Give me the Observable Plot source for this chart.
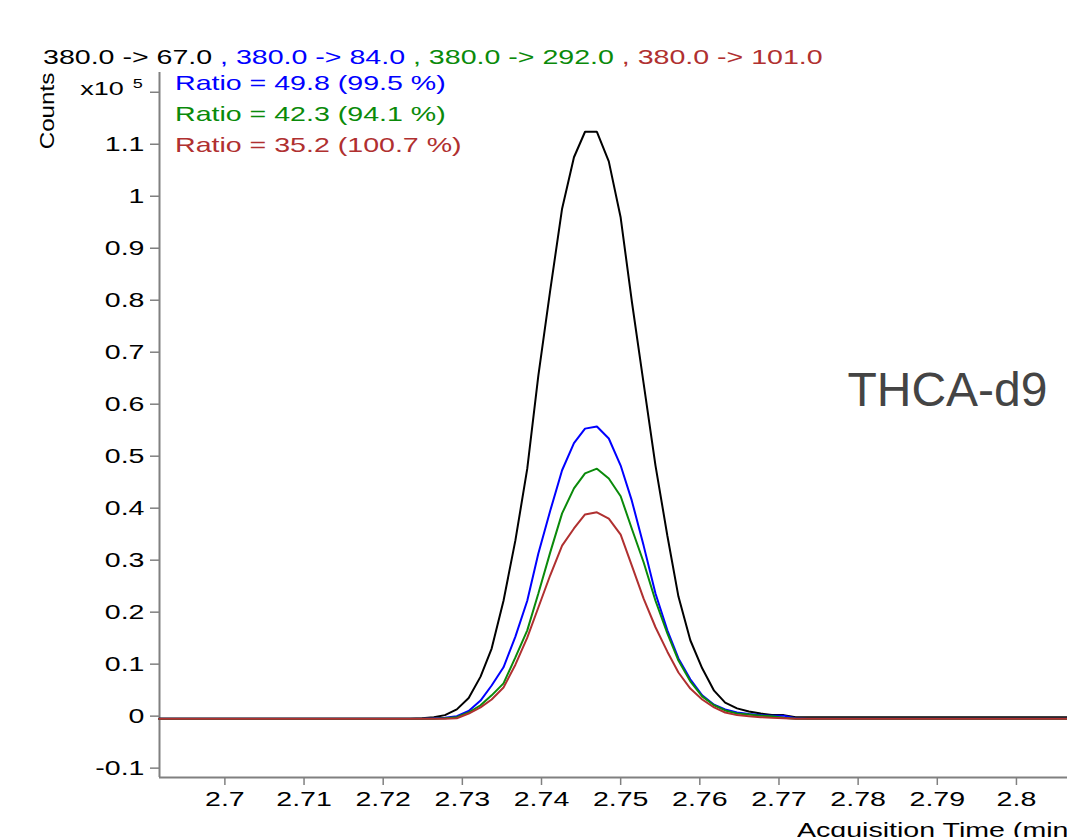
<!DOCTYPE html>
<html>
<head>
<meta charset="utf-8">
<script src="https://cdn.jsdelivr.net/npm/d3@7"></script>
<script src="https://cdn.jsdelivr.net/npm/@observablehq/plot@0.6"></script>
<style>
  html, body { margin: 0; padding: 0; background: #fff; overflow: hidden; }
  #wrap { position: relative; width: 1067px; height: 837px; overflow: hidden; font-family: "Liberation Sans", Arial, sans-serif; }
  #wrap svg { position: absolute; left: 0; top: 0; }
  .ov { position: absolute; white-space: nowrap; font-size: 21px; line-height: 21px; }
  .stretch { transform: scaleX(1.36); transform-origin: left center; }
</style>
</head>
<body>
<div id="wrap">
  <div id="chart"></div>
  <div class="ov stretch" style="left:43px; top:46px;">
    <span style="color:#000">380.0 -&gt; 67.0</span><span style="color:#0000ff"> , 380.0 -&gt; 84.0</span><span style="color:#0a8a0a"> , 380.0 -&gt; 292.0</span><span style="color:#b03030"> , 380.0 -&gt; 101.0</span>
  </div>
  <div class="ov stretch" style="left:175px; top:67px; line-height:31px;">
    <div style="color:#0000ff">Ratio = 49.8 (99.5 %)</div>
    <div style="color:#0a8a0a">Ratio = 42.3 (94.1 %)</div>
    <div style="color:#b03030">Ratio = 35.2 (100.7 %)</div>
  </div>
  <div class="ov" style="right:924px; top:79.8px; font-size:18px; line-height:18px; transform: scaleX(1.5); transform-origin: right center;">x10<span style="font-size:12px; position:relative; top:-6.7px; margin-left:6px;">5</span></div>
  <div class="ov" style="left:46px; top:111px; transform: translate(-50%,-50%) rotate(-90deg) scaleX(1.15);">Counts</div>
  <div class="ov stretch" style="left:797px; top:819px;">Acquisition Time (min)</div>
</div>
<script>
// ---- data ----
const times = [2.6917, 2.7234, 2.7249, 2.7264, 2.7278, 2.7293, 2.7308, 2.7323, 2.7337, 2.7352,
  2.7367, 2.7382, 2.7396, 2.7411, 2.7426, 2.7441, 2.7455, 2.7470, 2.7485, 2.7500,
  2.7514, 2.7529, 2.7544, 2.7559, 2.7573, 2.7588, 2.7603, 2.7618, 2.7632, 2.7647,
  2.7662, 2.7677, 2.7691, 2.7706, 2.7721, 2.7736, 2.8065];

const seriesNames = ["380.0 -> 67.0", "380.0 -> 84.0", "380.0 -> 292.0", "380.0 -> 101.0"];
const seriesColors = ["#000000", "#0000ff", "#0a8a0a", "#b03030"];

const counts67 = [-0.005, -0.005, -0.004, -0.002, 0.002, 0.013, 0.035, 0.076, 0.130, 0.222,
  0.338, 0.476, 0.655, 0.819, 0.976, 1.075, 1.124, 1.124, 1.067, 0.959,
  0.799, 0.640, 0.482, 0.347, 0.230, 0.146, 0.092, 0.049, 0.026, 0.015,
  0.009, 0.005, 0.002, 0.002, -0.002, -0.002, -0.002];
const counts84 = [-0.005, -0.005, -0.005, -0.004, -0.003, 0.000, 0.010, 0.030, 0.059, 0.094,
  0.153, 0.222, 0.313, 0.395, 0.473, 0.525, 0.553, 0.557, 0.534, 0.482,
  0.415, 0.328, 0.236, 0.165, 0.111, 0.071, 0.040, 0.022, 0.013, 0.007,
  0.004, 0.002, 0.001, 0.001, -0.004, -0.005, -0.005];
const counts292 = [-0.005, -0.005, -0.005, -0.005, -0.004, -0.002, 0.007, 0.021, 0.040, 0.063,
  0.113, 0.165, 0.236, 0.315, 0.390, 0.438, 0.467, 0.476, 0.457, 0.423,
  0.361, 0.296, 0.222, 0.159, 0.107, 0.067, 0.038, 0.021, 0.011, 0.005,
  0.003, 0.001, 0.000, -0.003, -0.005, -0.005, -0.005];
const counts101 = [-0.005, -0.005, -0.005, -0.005, -0.005, -0.004, 0.005, 0.017, 0.032, 0.055,
  0.099, 0.151, 0.209, 0.271, 0.328, 0.361, 0.388, 0.392, 0.380, 0.349,
  0.290, 0.226, 0.171, 0.124, 0.084, 0.053, 0.032, 0.017, 0.007, 0.002,
  0.000, -0.002, -0.003, -0.004, -0.005, -0.005, -0.005];

const xTicks = [2.70, 2.71, 2.72, 2.73, 2.74, 2.75, 2.76, 2.77, 2.78, 2.79, 2.80];
const yTicks = [-0.1, 0, 0.1, 0.2, 0.3, 0.4, 0.5, 0.6, 0.7, 0.8, 0.9, 1, 1.1, 1.2];
const xDomain = [2.69174, 2.80645];
const yDomain = [-0.118, 1.238];
const compoundLabel = "THCA-d9";

// ---- table ----
const allSeries = [counts67, counts84, counts292, counts101];
const table = allSeries.flatMap((vals, si) =>
  vals.map((v, i) => ({t: times[i], v, series: seriesNames[si]})));

const axisGrey = "#808080";

const chart = Plot.plot({
  width: 1067,
  height: 837,
  marginLeft: 159,
  marginRight: 0,
  marginTop: 72,
  marginBottom: 60,
  style: {fontFamily: "'Liberation Sans', Arial, sans-serif", fontSize: "21px", color: "#000", background: "#fff"},
  x: {domain: xDomain},
  y: {domain: yDomain},
  color: {domain: seriesNames, range: seriesColors},
  marks: [
    Plot.axisX({ticks: xTicks, tickFormat: d => String(d), tickSize: 8, tickPadding: 6,
      stroke: axisGrey, strokeWidth: 1.5, fill: "#000", label: null}),
    Plot.axisY({ticks: yTicks, tickFormat: d => (d === 1.2 ? "" : String(d)), tickSize: 9, tickPadding: 6,
      stroke: axisGrey, strokeWidth: 1.5, fill: "#000", label: null}),
    Plot.ruleX([xDomain[0]], {stroke: axisGrey, strokeWidth: 2}),
    Plot.ruleY([yDomain[0]], {stroke: axisGrey, strokeWidth: 2}),
    ...seriesNames.map(name =>
      Plot.line(table.filter(d => d.series === name), {x: "t", y: "v", stroke: "series", strokeWidth: 2, strokeLinejoin: "miter"})),
    Plot.text([compoundLabel], {frameAnchor: "right", dx: -20, dy: -34, textAnchor: "end", fontSize: 48, fill: "#444"})
  ]
});

d3.select(chart).selectAll('g[aria-label="x-axis tick label"] text, g[aria-label="y-axis tick label"] text')
  .each(function() {
    const tr = this.getAttribute("transform") || "";
    this.setAttribute("transform", tr + " scale(1.36,1)");
  });

document.getElementById("chart").appendChild(chart);
</script>
</body>
</html>
